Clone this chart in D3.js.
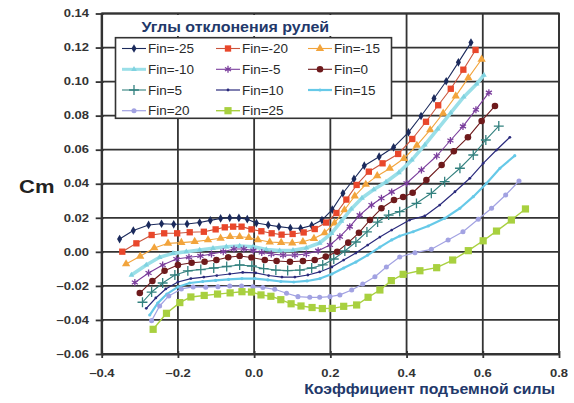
<!DOCTYPE html>
<html>
<head>
<meta charset="utf-8">
<script src="https://cdn.jsdelivr.net/npm/d3@7/dist/d3.min.js"></script>
<style>
  html, body { margin: 0; padding: 0; background: #fff; }
  svg { display: block; font-family: "Liberation Sans", Arial, sans-serif; }
</style>
</head>
<body>
<svg id="chart" width="574" height="403"></svg>
<script>
// Pitching moment Cm versus lift coefficient for a range of fin deflections.
// Each series: [lift coefficient, Cm]
const finM25 = [[-0.353,0.0075],[-0.317,0.0125],[-0.277,0.0158],[-0.243,0.0165],[-0.211,0.0162],[-0.176,0.0164],[-0.143,0.0172],[-0.115,0.0185],[-0.088,0.0196],[-0.064,0.0200],[-0.040,0.0199],[-0.018,0.0192],[0.006,0.0169],[0.037,0.0158],[0.065,0.0148],[0.095,0.0140],[0.122,0.0138],[0.151,0.0155],[0.178,0.0187],[0.205,0.0248],[0.233,0.0344],[0.262,0.0428],[0.289,0.0506],[0.328,0.0559],[0.366,0.0614],[0.405,0.0702],[0.438,0.0798],[0.472,0.0901],[0.504,0.1002],[0.536,0.1113],[0.569,0.1229]];
const finM20 = [[-0.346,0.0001],[-0.309,0.0050],[-0.269,0.0099],[-0.236,0.0109],[-0.202,0.0109],[-0.169,0.0115],[-0.132,0.0118],[-0.101,0.0132],[-0.077,0.0144],[-0.055,0.0148],[-0.033,0.0148],[-0.007,0.0132],[0.019,0.0121],[0.046,0.0109],[0.072,0.0101],[0.101,0.0105],[0.130,0.0114],[0.159,0.0134],[0.189,0.0172],[0.216,0.0228],[0.242,0.0307],[0.269,0.0393],[0.301,0.0471],[0.337,0.0520],[0.378,0.0575],[0.415,0.0663],[0.451,0.0764],[0.483,0.0861],[0.516,0.0958],[0.549,0.1070],[0.581,0.1186]];
const finM15 = [[-0.336,-0.0071],[-0.299,-0.0026],[-0.262,0.0023],[-0.226,0.0050],[-0.191,0.0054],[-0.156,0.0060],[-0.121,0.0070],[-0.088,0.0080],[-0.063,0.0089],[-0.038,0.0089],[-0.014,0.0084],[0.010,0.0071],[0.041,0.0058],[0.071,0.0054],[0.100,0.0052],[0.128,0.0059],[0.157,0.0078],[0.185,0.0111],[0.211,0.0169],[0.237,0.0246],[0.264,0.0328],[0.293,0.0396],[0.323,0.0446],[0.356,0.0490],[0.393,0.0548],[0.427,0.0625],[0.462,0.0716],[0.496,0.0814],[0.529,0.0915],[0.562,0.1022],[0.597,0.1131]];
const finM10 = [[-0.322,-0.0136],[-0.283,-0.0077],[-0.248,-0.0032],[-0.213,-0.0009],[-0.178,0.0001],[-0.143,0.0011],[-0.108,0.0021],[-0.073,0.0030],[-0.038,0.0034],[-0.003,0.0030],[0.032,0.0014],[0.067,0.0007],[0.102,0.0009],[0.137,0.0023],[0.172,0.0052],[0.203,0.0109],[0.229,0.0181],[0.255,0.0252],[0.283,0.0316],[0.314,0.0366],[0.346,0.0410],[0.380,0.0466],[0.414,0.0540],[0.448,0.0628],[0.482,0.0722],[0.516,0.0816],[0.550,0.0910],[0.584,0.0986],[0.603,0.1038]];
const finM5 = [[-0.313,-0.0180],[-0.277,-0.0124],[-0.240,-0.0077],[-0.204,-0.0042],[-0.171,-0.0032],[-0.141,-0.0024],[-0.112,-0.0013],[-0.081,0.0001],[-0.053,0.0017],[-0.027,0.0017],[-0.002,0.0007],[0.020,-0.0004],[0.045,-0.0013],[0.076,-0.0019],[0.107,-0.0019],[0.137,-0.0013],[0.168,0.0007],[0.199,0.0040],[0.225,0.0089],[0.251,0.0148],[0.277,0.0216],[0.308,0.0275],[0.334,0.0315],[0.361,0.0352],[0.400,0.0403],[0.439,0.0481],[0.479,0.0563],[0.515,0.0654],[0.548,0.0737],[0.582,0.0835],[0.616,0.0935]];
const fin0 = [[-0.300,-0.0242],[-0.267,-0.0171],[-0.235,-0.0111],[-0.200,-0.0077],[-0.164,-0.0064],[-0.130,-0.0058],[-0.099,-0.0048],[-0.068,-0.0032],[-0.038,-0.0024],[-0.007,-0.0033],[0.028,-0.0048],[0.059,-0.0054],[0.094,-0.0058],[0.128,-0.0054],[0.159,-0.0048],[0.188,-0.0028],[0.218,0.0001],[0.247,0.0054],[0.275,0.0112],[0.304,0.0187],[0.334,0.0256],[0.367,0.0305],[0.391,0.0322],[0.416,0.0347],[0.452,0.0422],[0.492,0.0510],[0.524,0.0591],[0.561,0.0673],[0.597,0.0769],[0.632,0.0857]];
const fin5 = [[-0.293,-0.0296],[-0.269,-0.0236],[-0.240,-0.0183],[-0.208,-0.0136],[-0.174,-0.0112],[-0.140,-0.0104],[-0.106,-0.0095],[-0.072,-0.0086],[-0.038,-0.0077],[-0.006,-0.0083],[0.025,-0.0098],[0.057,-0.0107],[0.088,-0.0110],[0.120,-0.0107],[0.151,-0.0095],[0.180,-0.0077],[0.209,-0.0042],[0.238,0.0005],[0.267,0.0058],[0.296,0.0117],[0.324,0.0175],[0.353,0.0216],[0.382,0.0236],[0.426,0.0285],[0.465,0.0344],[0.500,0.0412],[0.540,0.0491],[0.575,0.0569],[0.608,0.0657],[0.642,0.0739]];
const fin10 = [[-0.283,-0.0332],[-0.258,-0.0271],[-0.232,-0.0218],[-0.200,-0.0177],[-0.166,-0.0157],[-0.132,-0.0148],[-0.098,-0.0139],[-0.064,-0.0130],[-0.030,-0.0121],[0.004,-0.0124],[0.038,-0.0139],[0.073,-0.0148],[0.107,-0.0148],[0.141,-0.0136],[0.172,-0.0118],[0.204,-0.0089],[0.235,-0.0048],[0.267,-0.0007],[0.298,0.0040],[0.330,0.0087],[0.361,0.0128],[0.408,0.0187],[0.448,0.0211],[0.487,0.0275],[0.527,0.0353],[0.566,0.0432],[0.601,0.0520],[0.636,0.0598],[0.671,0.0673]];
const fin15 = [[-0.274,-0.0371],[-0.253,-0.0301],[-0.229,-0.0248],[-0.200,-0.0206],[-0.169,-0.0183],[-0.135,-0.0174],[-0.101,-0.0168],[-0.067,-0.0162],[-0.032,-0.0157],[0.002,-0.0157],[0.036,-0.0165],[0.070,-0.0174],[0.104,-0.0177],[0.139,-0.0171],[0.173,-0.0157],[0.204,-0.0130],[0.235,-0.0095],[0.267,-0.0060],[0.298,-0.0019],[0.330,0.0028],[0.361,0.0070],[0.382,0.0093],[0.417,0.0118],[0.457,0.0152],[0.500,0.0197],[0.540,0.0256],[0.575,0.0324],[0.610,0.0403],[0.645,0.0491],[0.684,0.0565]];
const fin20 = [[-0.269,-0.0404],[-0.248,-0.0318],[-0.224,-0.0259],[-0.191,-0.0218],[-0.160,-0.0206],[-0.127,-0.0208],[-0.095,-0.0205],[-0.064,-0.0201],[-0.033,-0.0201],[-0.003,-0.0205],[0.023,-0.0209],[0.054,-0.0220],[0.085,-0.0243],[0.115,-0.0263],[0.146,-0.0267],[0.172,-0.0267],[0.199,-0.0263],[0.225,-0.0253],[0.256,-0.0224],[0.285,-0.0189],[0.317,-0.0146],[0.347,-0.0089],[0.382,-0.0030],[0.422,-0.0005],[0.465,0.0015],[0.509,0.0070],[0.548,0.0118],[0.588,0.0191],[0.623,0.0256],[0.660,0.0334],[0.695,0.0416]];
const fin25 = [[-0.265,-0.0455],[-0.230,-0.0361],[-0.195,-0.0298],[-0.166,-0.0265],[-0.131,-0.0256],[-0.096,-0.0248],[-0.063,-0.0241],[-0.032,-0.0234],[-0.007,-0.0236],[0.018,-0.0253],[0.044,-0.0261],[0.070,-0.0281],[0.097,-0.0305],[0.123,-0.0318],[0.152,-0.0327],[0.179,-0.0333],[0.205,-0.0332],[0.235,-0.0320],[0.269,-0.0312],[0.299,-0.0267],[0.330,-0.0224],[0.360,-0.0169],[0.391,-0.0132],[0.435,-0.0111],[0.479,-0.0093],[0.521,-0.0048],[0.562,0.0007],[0.601,0.0065],[0.636,0.0122],[0.675,0.0187],[0.712,0.0252]];

const seriesLabels = ["Fin=-25","Fin=-20","Fin=-15","Fin=-10","Fin=-5","Fin=0","Fin=5","Fin=10","Fin=15","Fin=20","Fin=25"];
const seriesValues = [finM25, finM20, finM15, finM10, finM5, fin0, fin5, fin10, fin15, fin20, fin25];
const xTicks = [-0.4, -0.2, 0.0, 0.2, 0.4, 0.6, 0.8];
const yTicks = [-0.06, -0.04, -0.02, 0.00, 0.02, 0.04, 0.06, 0.08, 0.10, 0.12, 0.14];

// Line / marker styling per series
const styles = [
  { color: "#1b2a5c", width: 1.1, symbol: d3.symbolDiamond, size: 22, mode: "fill" },
  { color: "#e9472b", width: 1.1, symbol: d3.symbolSquare, size: 40, mode: "fill", line: "#c8553d" },
  { color: "#f2a43c", width: 1.1, symbol: d3.symbolTriangle, size: 30, mode: "fill" },
  { color: "#9adfe8", width: 3.6, symbol: d3.symbolTriangle, size: 14, mode: "fill", mark: "#7fd2e0" },
  { color: "#7a3d9c", width: 1.1, symbol: d3.symbolAsterisk, size: 34, mode: "stroke" },
  { color: "#6e1a1c", width: 1.1, symbol: d3.symbolCircle, size: 34, mode: "fill" },
  { color: "#33817f", width: 1.1, symbol: d3.symbolPlus, size: 34, mode: "stroke" },
  { color: "#2a2a7c", width: 1.2, symbol: d3.symbolCircle, size: 6, mode: "fill" },
  { color: "#66c9e8", width: 2.2, symbol: d3.symbolCircle, size: 8, mode: "fill" },
  { color: "#a2a2e2", width: 1.2, symbol: d3.symbolCircle, size: 20, mode: "fill" },
  { color: "#a8d03f", width: 1.4, symbol: d3.symbolSquare, size: 52, mode: "fill" }
];

const svg = d3.select("#chart");
const x = d3.scaleLinear().domain([-0.4, 0.8]).range([101.7, 559]);
const y = d3.scaleLinear().domain([-0.06, 0.14]).range([354, 13.5]);
const gridColor = "#333";
const font = "'Liberation Sans', Arial, sans-serif";

// text helper: glyphs are set wide and slightly squat
function label(parent, tx, ty, str, opts) {
  return parent.append("text")
    .attr("transform", `translate(${tx},${ty}) scale(1,${opts.sy || 1})`)
    .attr("text-anchor", opts.anchor || "start")
    .attr("font-family", font).attr("font-weight", opts.weight || "normal")
    .attr("font-size", opts.size).attr("fill", opts.fill || "#333")
    .text(str);
}

// grid
const grid = svg.append("g");
grid.selectAll("line.v").data(xTicks).join("line")
  .attr("x1", d => x(d)).attr("x2", d => x(d))
  .attr("y1", y(0.14)).attr("y2", y(-0.06))
  .attr("stroke", gridColor).attr("stroke-width", 1.8);
grid.selectAll("line.h").data(yTicks).join("line")
  .attr("x1", x(-0.4)).attr("x2", x(0.8))
  .attr("y1", d => y(d)).attr("y2", d => y(d))
  .attr("stroke", gridColor).attr("stroke-width", 1.8);

// axes (lines and ticks from d3 axes, labels set separately)
const yAxis = svg.append("g").attr("transform", `translate(${x(-0.4)},0)`)
  .call(d3.axisLeft(y).tickValues(yTicks).tickFormat("").tickSizeInner(6).tickSizeOuter(0));
const xAxis = svg.append("g").attr("transform", `translate(0,${y(-0.06)})`)
  .call(d3.axisBottom(x).tickValues(xTicks).tickFormat("").tickSizeInner(4).tickSizeOuter(0));
[xAxis, yAxis].forEach(a => {
  a.select(".domain").attr("stroke", gridColor).attr("stroke-width", 1.8);
  a.selectAll(".tick line").attr("stroke", gridColor).attr("stroke-width", 1.8);
});
yAxis.selectAll(".tick line").attr("x2", -6).attr("x1", 2);
xAxis.selectAll(".tick line").attr("y1", -3).attr("y2", 4);

const fy = d3.format(".2f"), fx = d3.format(".1f");
yTicks.forEach(v => label(svg, 89, y(v) + 3.7, fy(v), { size: 13, weight: "bold", anchor: "end", sy: 0.8 }));
xTicks.forEach(v => label(svg, x(v), 377.3, fx(v), { size: 13, weight: "bold", anchor: "middle", sy: 0.8 }));

// series
const line = d3.line().x(d => x(d[0])).y(d => y(d[1]));
const plot = svg.append("g");
function drawMarker(sel, st, cx, cy) {
  const c = st.mark || st.color;
  const p = sel.append("path")
    .attr("d", d3.symbol().type(st.symbol).size(st.size)())
    .attr("transform", `translate(${cx},${cy})`);
  if (st.mode === "fill") p.attr("fill", c).attr("stroke", "none");
  else p.attr("fill", "none").attr("stroke", c).attr("stroke-width", 1.3);
}
seriesValues.forEach((data, i) => {
  const st = styles[i];
  const g = plot.append("g");
  g.append("path").datum(data).attr("d", line)
    .attr("fill", "none").attr("stroke", st.line || st.color)
    .attr("stroke-width", st.width).attr("stroke-linejoin", "round");
  data.forEach(d => drawMarker(g, st, x(d[0]), y(d[1])));
});

// plot frame
svg.append("rect").attr("x", x(-0.4)).attr("y", y(0.14))
  .attr("width", x(0.8) - x(-0.4)).attr("height", y(-0.06) - y(0.14))
  .attr("fill", "none").attr("stroke", gridColor).attr("stroke-width", 1.8);

// legend
const legend = svg.append("g");
legend.append("rect").attr("x", 138).attr("y", 15).attr("width", 197).attr("height", 21).attr("fill", "#fff");
label(legend, 141.5, 31.5, "Углы отклонения рулей", { size: 16, weight: "bold", fill: "#22386a", sy: 0.95 });
legend.append("rect").attr("x", 115.5).attr("y", 37.7).attr("width", 276).attr("height", 80.6)
  .attr("fill", "#fff").attr("stroke", gridColor).attr("stroke-width", 1.6);
const colX = [122, 216, 308];
const rowY = [48.5, 69.3, 90, 110.7];
seriesLabels.forEach((lab, i) => {
  const st = styles[i];
  const lx = colX[i % 3], ly = rowY[Math.floor(i / 3)];
  const item = legend.append("g");
  item.append("line").attr("x1", lx).attr("x2", lx + 24).attr("y1", ly).attr("y2", ly)
    .attr("stroke", st.line || st.color).attr("stroke-width", Math.min(st.width, 3));
  drawMarker(item, st, lx + 12, ly);
  label(item, lx + 26, ly + 4.5, lab, { size: 13.5, fill: "#2a2a2a", sy: 0.9 });
});

// axis titles
label(svg, 19, 193, "Cm", { size: 22, weight: "bold", fill: "#222", sy: 0.83 });
label(svg, 555, 394, "Коэффициент подъемной силы", { size: 15.8, weight: "bold", fill: "#22386a", anchor: "end", sy: 0.88 });
</script>
</body>
</html>
